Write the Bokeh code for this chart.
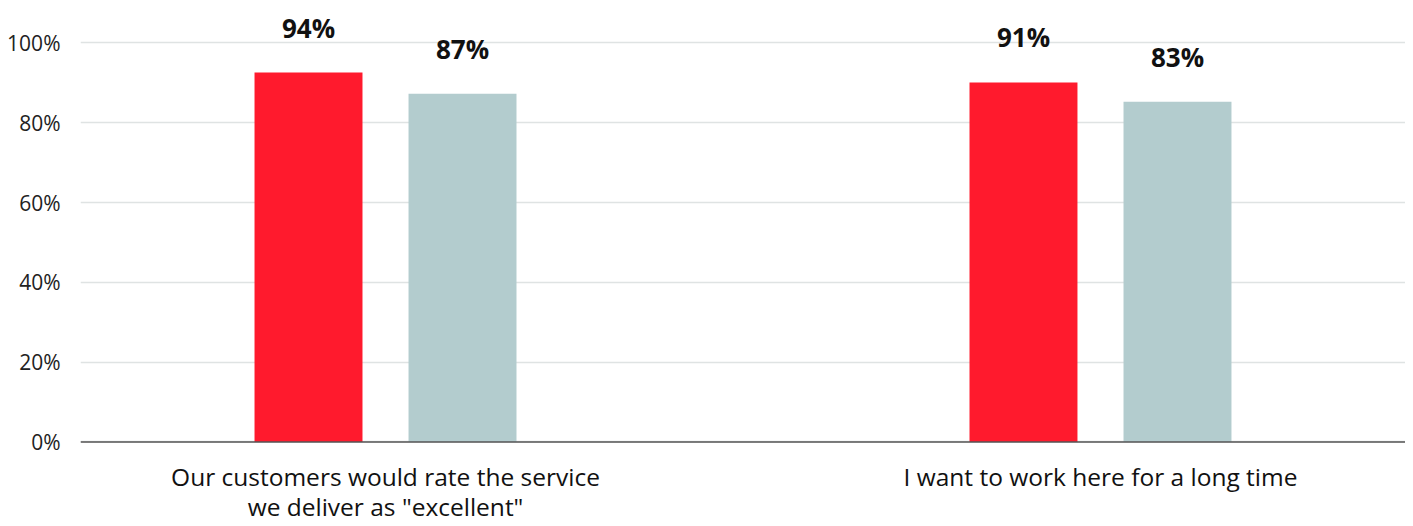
from bokeh.plotting import figure
from bokeh.models import FixedTicker, ColumnDataSource, Span
from bokeh.core.properties import value
from bokeh.embed import file_html
from bokeh.resources import INLINE

categories = ["Our customers would rate the service\nwe deliver as \"excellent\"",
              "I want to work here for a long time"]
series_a = [92.6, 90.1]
series_b = [87.3, 85.3]
labels_a = ["94%", "91%"]
labels_b = ["87%", "83%"]
y_ticks = [0, 20, 40, 60, 80, 100]
y_tick_labels = ["0%", "20%", "40%", "60%", "80%", "100%"]

RED = "#ff1a2d"
GREY = "#b3ccce"
FONT = "Open Sans"

xs = list(range(len(categories)))
off = 0.1077
bw = 0.151

p = figure(width=1405, height=526, output_backend="svg", toolbar_location=None,
           x_range=(-0.4266, 1.4266), y_range=(-21.18, 110.65),
           x_axis_location=None,
           min_border_left=80, min_border_right=0, min_border_top=0, min_border_bottom=0)
p.outline_line_color = None
p.background_fill_color = "white"
p.border_fill_color = "white"

src = ColumnDataSource(dict(
    xa=[x - off for x in xs], xb=[x + off for x in xs],
    a=series_a, b=series_b, la=labels_a, lb=labels_b))

p.vbar(x="xa", top="a", width=bw, bottom=0, source=src, color=RED, line_color=None)
p.vbar(x="xb", top="b", width=bw, bottom=0, source=src, color=GREY, line_color=None)

for xcol, ycol, lcol in (("xa", "a", "la"), ("xb", "b", "lb")):
    p.text(x=xcol, y=ycol, text=lcol, source=src, text_align="center",
           text_baseline="middle", y_offset=-45, text_font=value(FONT),
           text_font_style="bold", text_font_size="26px", text_color="#111111")

# baseline axis line at 0
p.add_layout(Span(location=0, dimension="width", line_color="#555555", line_width=1.5))

# category labels below the axis line
cx, cy, ct, co = [], [], [], []
for i, c in zip(xs, categories):
    for j, line in enumerate(c.split("\n")):
        cx.append(i)
        cy.append(0)
        ct.append(line)
        co.append(35 + 30 * j)
p.text(x=cx, y=cy, text=ct, y_offset=co, text_align="center", text_baseline="middle",
       text_font=value(FONT), text_font_size="24.5px", text_color="#111111")

p.yaxis.ticker = FixedTicker(ticks=y_ticks)
p.yaxis.major_label_overrides = {t: l for t, l in zip(y_ticks, y_tick_labels)}
p.yaxis.axis_line_color = None
p.yaxis.major_tick_line_color = None
p.yaxis.minor_tick_line_color = None
p.yaxis.major_label_text_font = FONT
p.yaxis.major_label_text_font_size = "21px"
p.yaxis.major_label_text_color = "#222222"
p.yaxis.major_label_standoff = 14

p.xgrid.grid_line_color = None
p.ygrid.grid_line_color = "#dfe3e3"
p.ygrid.grid_line_width = 1.3

open("out.html", "w").write(file_html(p, INLINE))
